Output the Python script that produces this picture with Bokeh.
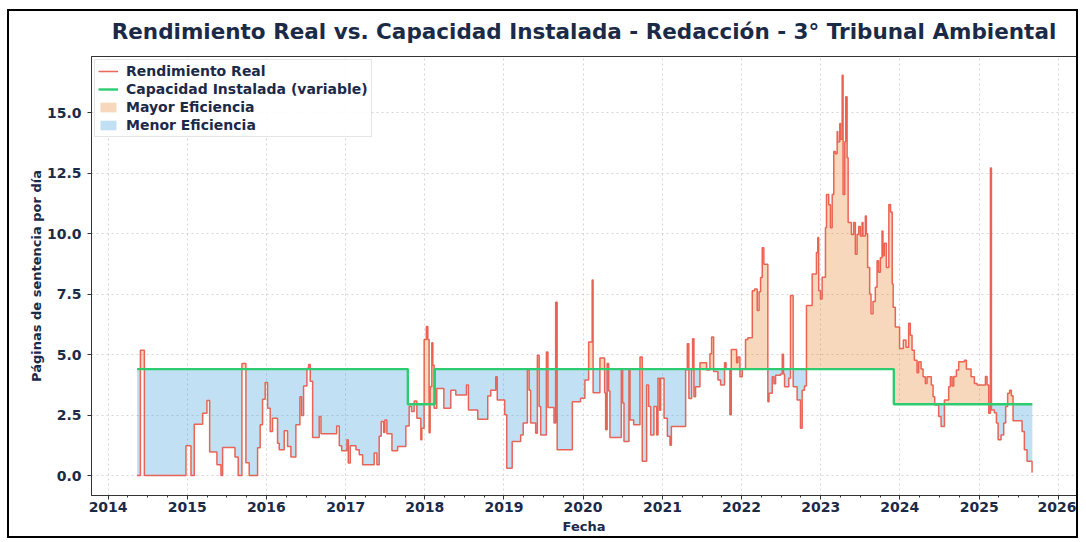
import numpy as np
from datetime import datetime
from bokeh.plotting import figure
from bokeh.models import (ColumnDataSource, FixedTicker, DatetimeTickFormatter, Legend,
                          LegendItem, Range1d, NumeralTickFormatter, Title)
from bokeh.embed import file_html
from bokeh.resources import INLINE

# ---------------- data ----------------
# Fechas expresadas como año decimal; valores en páginas de sentencia por día
anio_real = [
    2014.366, 2014.408, 2014.458, 2014.984, 2015.047, 2015.089, 2015.195, 2015.249, 2015.283, 2015.375,
    2015.426, 2015.447, 2015.603, 2015.644, 2015.691, 2015.741, 2015.783, 2015.889, 2015.922, 2015.952,
    2015.985, 2016.015, 2016.048, 2016.078, 2016.141, 2016.162, 2016.225, 2016.267, 2016.309, 2016.372,
    2016.423, 2016.444, 2016.469, 2016.511, 2016.532, 2016.553, 2016.583, 2016.666, 2016.688, 2016.886,
    2016.919, 2016.949, 2017.016, 2017.032, 2017.057, 2017.129, 2017.171, 2017.214, 2017.360, 2017.394,
    2017.423, 2017.449, 2017.479, 2017.495, 2017.520, 2017.584, 2017.656, 2017.760, 2017.802, 2017.832,
    2017.865, 2017.899, 2017.949, 2017.962, 2017.991, 2018.019, 2018.038, 2018.054, 2018.067, 2018.088,
    2018.101, 2018.117, 2018.151, 2018.240, 2018.328, 2018.391, 2018.526, 2018.551, 2018.669, 2018.795,
    2018.833, 2018.896, 2018.915, 2019.009, 2019.035, 2019.104, 2019.211, 2019.243, 2019.296, 2019.318,
    2019.337, 2019.401, 2019.422, 2019.445, 2019.464, 2019.536, 2019.556, 2019.632, 2019.653, 2019.672,
    2019.864, 2019.968, 2020.023, 2020.070, 2020.114, 2020.126, 2020.212, 2020.271, 2020.284, 2020.303,
    2020.322, 2020.338, 2020.482, 2020.498, 2020.515, 2020.578, 2020.591, 2020.637, 2020.717, 2020.745,
    2020.801, 2020.826, 2020.852, 2020.893, 2020.927, 2020.944, 2020.965, 2020.978, 2021.020, 2021.062,
    2021.095, 2021.113, 2021.293, 2021.314, 2021.334, 2021.369, 2021.381, 2021.398, 2021.419, 2021.474,
    2021.558, 2021.600, 2021.621, 2021.647, 2021.701, 2021.735, 2021.785, 2021.804, 2021.852, 2021.870,
    2021.937, 2021.953, 2021.979, 2022.009, 2022.050, 2022.079, 2022.135, 2022.164, 2022.198, 2022.221,
    2022.240, 2022.261, 2022.282, 2022.332, 2022.347, 2022.388, 2022.409, 2022.430, 2022.492, 2022.514,
    2022.530, 2022.543, 2022.597, 2022.618, 2022.652, 2022.702, 2022.744, 2022.766, 2022.795, 2022.820,
    2022.892, 2022.946, 2022.963, 2022.975, 2022.997, 2023.018, 2023.060, 2023.073, 2023.102, 2023.123,
    2023.145, 2023.165, 2023.186, 2023.208, 2023.216, 2023.241, 2023.250, 2023.271, 2023.283, 2023.304,
    2023.316, 2023.334, 2023.347, 2023.388, 2023.417, 2023.438, 2023.460, 2023.480, 2023.501, 2023.523,
    2023.535, 2023.564, 2023.577, 2023.593, 2023.619, 2023.636, 2023.661, 2023.690, 2023.712, 2023.732,
    2023.754, 2023.775, 2023.787, 2023.804, 2023.830, 2023.861, 2023.883, 2023.904, 2023.916, 2023.943,
    2023.997, 2024.044, 2024.078, 2024.111, 2024.132, 2024.154, 2024.183, 2024.217, 2024.237, 2024.268,
    2024.293, 2024.322, 2024.343, 2024.397, 2024.419, 2024.440, 2024.490, 2024.520, 2024.562, 2024.616,
    2024.637, 2024.659, 2024.679, 2024.713, 2024.742, 2024.814, 2024.839, 2024.898, 2024.940, 2024.974,
    2025.079, 2025.100, 2025.121, 2025.142, 2025.155, 2025.192, 2025.218, 2025.239, 2025.277, 2025.310,
    2025.335, 2025.360, 2025.385, 2025.407, 2025.428, 2025.542, 2025.571, 2025.605, 2025.668,
]
rendimiento_real = [
    0.00, 5.18, 0.00, 1.23, 0.00, 2.12, 2.58, 3.10, 0.97, 0.45,
    0.00, 1.16, 0.77, 0.00, 4.63, 0.53, 0.00, 1.15, 2.10, 3.15,
    3.85, 2.78, 1.82, 2.37, 1.34, 1.07, 1.85, 1.20, 0.77, 2.10,
    3.26, 2.48, 3.70, 4.43, 4.59, 3.90, 1.57, 2.44, 1.73, 2.05,
    1.23, 1.03, 1.48, 0.52, 1.23, 1.07, 0.86, 0.45, 0.93, 0.45,
    1.62, 2.23, 1.78, 2.30, 1.73, 1.03, 1.20, 2.05, 2.85, 2.65,
    3.08, 2.37, 1.48, 1.96, 5.62, 6.16, 5.62, 1.77, 3.67, 5.49,
    4.56, 2.78, 3.60, 2.78, 3.53, 3.33, 3.74, 2.71, 2.33, 3.29,
    3.53, 4.08, 3.12, 2.51, 0.30, 1.41, 1.68, 2.17, 4.36, 3.53,
    2.17, 1.75, 4.97, 2.85, 1.68, 5.11, 2.81, 2.17, 7.16, 1.07,
    3.05, 3.20, 3.95, 5.52, 8.08, 3.42, 4.86, 3.42, 1.89, 4.63,
    3.50, 1.57, 4.36, 3.00, 1.41, 4.36, 2.30, 2.10, 4.90, 0.59,
    3.74, 2.85, 1.68, 2.85, 1.68, 4.02, 2.70, 4.02, 2.37, 1.62,
    1.25, 2.03, 4.36, 5.45, 3.19, 4.36, 5.66, 3.26, 3.67, 4.66,
    4.36, 5.04, 5.73, 4.30, 3.95, 3.74, 4.66, 4.40, 2.51, 5.21,
    4.66, 4.90, 4.08, 4.40, 5.62, 5.70, 7.64, 7.71, 6.82, 7.60,
    8.19, 9.42, 8.74, 3.05, 3.40, 4.08, 3.80, 4.15, 4.20, 5.01,
    4.20, 3.67, 4.02, 7.44, 3.67, 3.12, 1.96, 3.53, 3.70, 7.03,
    8.33, 9.22, 9.84, 7.64, 7.30, 8.20, 10.25, 11.62, 11.20, 10.25,
    11.62, 13.40, 13.30, 14.22, 13.80, 14.56, 13.90, 16.55, 11.62, 13.80,
    15.66, 13.14, 10.46, 9.97, 10.46, 9.15, 9.97, 10.30, 9.90, 10.46,
    9.90, 10.73, 10.00, 8.60, 7.51, 6.69, 7.20, 7.78, 8.88, 8.40,
    9.00, 10.11, 9.09, 9.60, 8.60, 11.21, 10.90, 7.92, 6.96, 6.14,
    5.25, 5.60, 5.30, 6.30, 5.80, 5.18, 4.77, 4.25, 4.70, 4.40,
    4.08, 3.81, 4.08, 3.74, 3.26, 2.92, 2.44, 2.03, 3.12, 3.67,
    4.08, 3.70, 4.10, 4.36, 4.70, 4.77, 4.40, 4.08, 3.81, 3.74,
    4.10, 3.74, 2.58, 12.72, 2.71, 2.60, 2.17, 1.48, 1.68, 2.17,
    2.85, 3.40, 3.53, 3.30, 2.27, 1.82, 1.07, 0.59, 0.14,
]
anio_fin = 2025.672

# Capacidad instalada (variable): cambios de nivel
anio_capacidad = [2014.366, 2017.785, 2018.126, 2023.924]
capacidad = [4.40, 2.95, 4.40, 2.95]

anios_eje = list(range(2014, 2027))

titulo = "Rendimiento Real vs. Capacidad Instalada - Redacción - 3° Tribunal Ambiental"


def to_dt(y):
    year = int(np.floor(y))
    start = datetime(year, 1, 1)
    end = datetime(year + 1, 1, 1)
    return start + (end - start) * (y - year)


def value_at(t, xs, vs):
    idx = np.searchsorted(np.array(xs), t, side="right") - 1
    return vs[max(idx, 0)]


# step-expanded series on a common grid
grid = sorted(set(anio_real) | set(anio_capacidad) | {anio_fin})
xs, rs, cs = [], [], []
for i in range(len(grid) - 1):
    r = value_at(grid[i], anio_real, rendimiento_real)
    c = value_at(grid[i], anio_capacidad, capacidad)
    for t in (grid[i], grid[i + 1]):
        xs.append(to_dt(t))
        rs.append(r)
        cs.append(c)
rs = np.array(rs)
cs = np.array(cs)

src = ColumnDataSource(dict(
    x=xs, real=rs, cap=cs,
    upper=np.maximum(rs, cs), lower=np.minimum(rs, cs),
))

NAVY = "#1b2a47"
FONT = "DejaVu Sans"

p = figure(
    width=1071, height=529,
    x_axis_type="datetime",
    x_range=Range1d(to_dt(2013.79), to_dt(2026.23)),
    y_range=Range1d(-0.825, 17.325),
    output_backend="svg", toolbar_location=None,
    min_border_left=82, min_border_right=4, min_border_top=44, min_border_bottom=45,
    title=None,
)
p.styles = {"margin-left": "7px", "margin-top": "9px", "border": "2px solid black"}

# spacer (closest to the plot) then the real title above it
p.add_layout(Title(text=" ", text_font_size="6px", standoff=0), "above")
p.add_layout(Title(text=titulo, align="center", text_font=FONT, text_font_size="21.5px",
                   text_font_style="bold", text_color=NAVY, text_line_height=0.9), "above")

orange = p.varea(x="x", y1="cap", y2="upper", source=src, fill_color="#e67e22", fill_alpha=0.3)
blue = p.varea(x="x", y1="lower", y2="cap", source=src, fill_color="#3498db", fill_alpha=0.3)
red = p.line(x="x", y="real", source=src, line_color="#e74c3c", line_width=1.5, line_alpha=0.85)
green = p.line(x="x", y="cap", source=src, line_color="#2ecc71", line_width=2.4)

# axes
tick_ms = [to_dt(y) for y in anios_eje]
minor = [to_dt(y + q / 4) for y in range(2013, 2027) for q in range(4)]
p.xaxis.ticker = FixedTicker(ticks=[t.timestamp() * 1000 for t in tick_ms],
                             minor_ticks=[t.timestamp() * 1000 for t in minor])
p.xaxis.formatter = DatetimeTickFormatter(years="%Y", months="%Y", days="%Y", hours="%Y",
                                          minutes="%Y", seconds="%Y", milliseconds="%Y",
                                          microseconds="%Y", hourmin="%Y", minsec="%Y")
p.yaxis.ticker = FixedTicker(ticks=[0, 2.5, 5, 7.5, 10, 12.5, 15])
p.yaxis.formatter = NumeralTickFormatter(format="0.0")

p.xaxis.axis_label = "Fecha"
p.yaxis.axis_label = "Páginas de sentencia por día"
for ax in (p.xaxis, p.yaxis):
    ax.axis_label_text_font = FONT
    ax.axis_label_text_font_size = "13px"
    ax.axis_label_text_font_style = "bold"
    ax.axis_label_text_color = NAVY
    ax.major_label_text_font = FONT
    ax.major_label_text_font_size = "14px"
    ax.major_label_text_font_style = "bold"
    ax.major_label_text_color = NAVY
    ax.axis_line_color = "#333333"
    ax.major_tick_line_color = "#333333"
    ax.minor_tick_line_color = "#333333"
    ax.major_tick_in = 0
    ax.major_tick_out = 4
    ax.minor_tick_in = 0
    ax.minor_tick_out = 2
p.yaxis.minor_tick_line_color = None
p.xaxis.axis_label_standoff = 4
p.yaxis.axis_label_standoff = 0
p.xaxis.major_label_standoff = 2
p.yaxis.major_label_standoff = 6

p.outline_line_color = "#333333"
p.outline_line_width = 1
for g in (p.xgrid, p.ygrid):
    g.grid_line_color = "#cccccc"
    g.grid_line_dash = "2 3"
    g.grid_line_alpha = 0.8

legend = Legend(items=[
    LegendItem(label="Rendimiento Real", renderers=[red]),
    LegendItem(label="Capacidad Instalada (variable)", renderers=[green]),
    LegendItem(label="Mayor Eficiencia", renderers=[orange]),
    LegendItem(label="Menor Eficiencia", renderers=[blue]),
], location="top_left")
legend.label_text_font = FONT
legend.label_text_font_size = "14px"
legend.label_text_font_style = "bold"
legend.label_text_color = NAVY
legend.glyph_width = 20
legend.glyph_height = 12
legend.label_height = 16
legend.label_standoff = 8
legend.spacing = 2
legend.padding = 3
legend.margin = 3
legend.border_line_color = "#cccccc"
legend.background_fill_alpha = 0.9
p.add_layout(legend)

open("out.html", "w").write(file_html(p, INLINE))
